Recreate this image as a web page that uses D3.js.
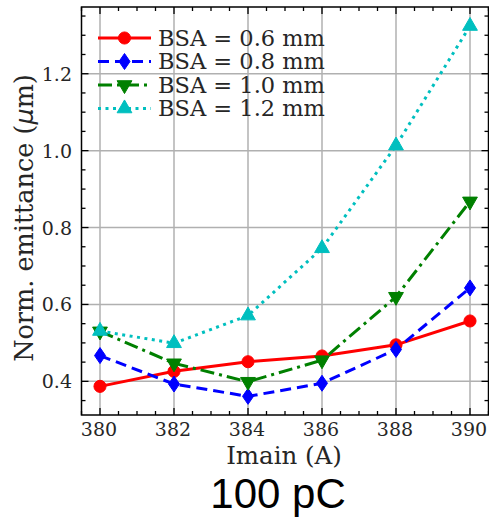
<!DOCTYPE html>
<html>
<head>
<meta charset="utf-8">
<script src="https://cdn.jsdelivr.net/npm/d3@7"></script>
<style>
  body { margin: 0; background: #fff; }
  svg text { font-family: "DejaVu Serif", serif; fill: #262626; }
</style>
</head>
<body>
<div id="chart"></div>
<script>
// data
var currents = [380, 382, 384, 386, 388, 390];
var bsa06 = [0.387, 0.426, 0.451, 0.466, 0.495, 0.557];
var bsa08 = [0.467, 0.393, 0.361, 0.395, 0.483, 0.643];
var bsa10 = [0.530, 0.447, 0.399, 0.455, 0.620, 0.868];
var bsa12 = [0.531, 0.499, 0.571, 0.746, 1.013, 1.324];
var seriesNames = ["BSA = 0.6 mm", "BSA = 0.8 mm", "BSA = 1.0 mm", "BSA = 1.2 mm"];
var xTicks = [380, 382, 384, 386, 388, 390];
var yTicks = [0.4, 0.6, 0.8, 1.0, 1.2];

var W = 489, H = 517;
var m = {left: 81.5, right: 0.5, top: 7, bottom: 102};

var svg = d3.select("#chart").append("svg")
    .attr("width", W).attr("height", H);

var x = d3.scaleLinear().domain([379.5, 390.5]).range([m.left, W - m.right]);
var y = d3.scaleLinear().domain([0.3125, 1.3735]).range([H - m.bottom, m.top]);

var styles = [
  {color: "#ff0000", dash: null, marker: d3.symbolCircle, size: 115, rot: 0},
  {color: "#0000ff", dash: "11,6", marker: "thin", size: 0, rot: 0},
  {color: "#008000", dash: "14,5,3,5", marker: d3.symbolTriangle, size: 95, rot: 180},
  {color: "#00bfbf", dash: "3,4.5", marker: d3.symbolTriangle, size: 95, rot: 0}
];
var series = [bsa06, bsa08, bsa10, bsa12];

// grid
var g = svg.append("g");
g.selectAll("line.gx").data(xTicks).enter().append("line")
  .attr("x1", function(d) { return x(d); }).attr("x2", function(d) { return x(d); })
  .attr("y1", y.range()[1]).attr("y2", y.range()[0])
  .attr("stroke", "#b0b0b0").attr("stroke-width", 1.5);
g.selectAll("line.gy").data(yTicks).enter().append("line")
  .attr("y1", function(d) { return y(d); }).attr("y2", function(d) { return y(d); })
  .attr("x1", x.range()[0]).attr("x2", x.range()[1])
  .attr("stroke", "#b0b0b0").attr("stroke-width", 1.5);

// ticks: inward, all four sides
function xt(vals, len) {
  vals.forEach(function(v) {
    g.append("line").attr("x1", x(v)).attr("x2", x(v))
      .attr("y1", y.range()[0]).attr("y2", y.range()[0] - len)
      .attr("stroke", "#000").attr("stroke-width", 1.3);
    g.append("line").attr("x1", x(v)).attr("x2", x(v))
      .attr("y1", y.range()[1]).attr("y2", y.range()[1] + len)
      .attr("stroke", "#000").attr("stroke-width", 1.3);
  });
}
function yt(vals, len) {
  vals.forEach(function(v) {
    g.append("line").attr("y1", y(v)).attr("y2", y(v))
      .attr("x1", x.range()[0]).attr("x2", x.range()[0] + len)
      .attr("stroke", "#000").attr("stroke-width", 1.3);
    g.append("line").attr("y1", y(v)).attr("y2", y(v))
      .attr("x1", x.range()[1]).attr("x2", x.range()[1] - len)
      .attr("stroke", "#000").attr("stroke-width", 1.3);
  });
}
xt(d3.range(379.5, 390.6, 0.5).filter(function(v) { return v % 2 !== 0; }), 4);
xt(xTicks, 7);
yt(d3.range(0.35, 1.37, 0.05).filter(function(v) { return Math.abs(v * 10 - Math.round(v * 10)) > 0.01 || Math.round(v * 10) % 2 !== 0; }), 4);
yt(yTicks, 7);

// series
var line = d3.line().x(function(d, i) { return x(currents[i]); }).y(function(d) { return y(d); });
series.forEach(function(s, k) {
  var st = styles[k];
  svg.append("path").attr("d", line(s))
    .attr("fill", "none").attr("stroke", st.color).attr("stroke-width", 3)
    .attr("stroke-dasharray", st.dash);
});
function drawMarker(sel, st, cx, cy) {
  if (st.marker === "thin") {
    sel.append("path").attr("d", "M0,-8L5.5,0L0,8L-5.5,0Z")
      .attr("transform", "translate(" + cx + "," + cy + ")")
      .attr("fill", st.color).attr("stroke", st.color).attr("stroke-width", 1);
  } else {
    sel.append("path").attr("d", d3.symbol().type(st.marker).size(st.size)())
      .attr("transform", "translate(" + cx + "," + cy + ") rotate(" + st.rot + ")")
      .attr("fill", st.color).attr("stroke", st.color).attr("stroke-width", 1);
  }
}
series.forEach(function(s, k) {
  s.forEach(function(v, i) { drawMarker(svg, styles[k], x(currents[i]), y(v)); });
});

// spines
svg.append("rect").attr("x", x.range()[0]).attr("y", y.range()[1])
  .attr("width", x.range()[1] - x.range()[0]).attr("height", y.range()[0] - y.range()[1])
  .attr("fill", "none").attr("stroke", "#000").attr("stroke-width", 1.5);

// tick labels
svg.selectAll("text.xl").data(xTicks).enter().append("text")
  .attr("x", function(d) { return x(d) - 1; }).attr("y", 436)
  .attr("text-anchor", "middle").attr("font-size", 19).text(function(d) { return d; });
svg.selectAll("text.yl").data(yTicks).enter().append("text")
  .attr("x", 72).attr("y", function(d) { return y(d) + 7; })
  .attr("text-anchor", "end").attr("font-size", 19).text(function(d) { return d.toFixed(1); });

// axis labels
svg.append("text").attr("x", 284).attr("y", 464).attr("text-anchor", "middle")
  .attr("font-size", 24.5).text("Imain (A)");
var yl = svg.append("text").attr("transform", "translate(33,218) rotate(-90)")
  .attr("text-anchor", "middle").attr("font-size", 25.5);
yl.append("tspan").text("Norm. emittance (");
yl.append("tspan").attr("font-style", "italic").attr("font-family", "DejaVu Sans").text("μ");
yl.append("tspan").text("m)");

// legend
var lg = svg.append("g");
seriesNames.forEach(function(n, k) {
  var ly = 38 + k * 23.5, st = styles[k];
  lg.append("line").attr("x1", 98).attr("x2", 151).attr("y1", ly).attr("y2", ly)
    .attr("stroke", st.color).attr("stroke-width", 3).attr("stroke-dasharray", st.dash);
  drawMarker(lg, st, 124.5, ly);
  lg.append("text").attr("x", 158).attr("y", ly + 7.5).attr("font-size", 22.5).text(n);
});

// panel caption
svg.append("text").attr("x", 278).attr("y", 508).attr("text-anchor", "middle")
  .style("font-family", "'Liberation Sans', Arial, sans-serif").style("fill", "#000")
  .attr("font-size", 42).text("100 pC");
</script>
</body>
</html>
